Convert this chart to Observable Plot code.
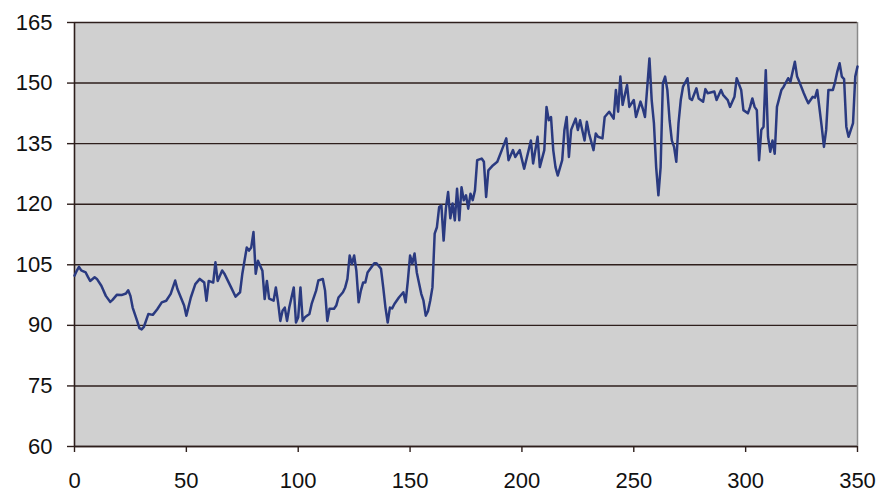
<!DOCTYPE html>
<html>
<head>
<meta charset="utf-8">
<script src="https://cdn.jsdelivr.net/npm/d3@7"></script>
<script src="https://cdn.jsdelivr.net/npm/@observablehq/plot@0.6"></script>
<style>
  html, body { margin: 0; padding: 0; background: #fff; }
  #chart svg { display: block; }
</style>
</head>
<body>
<div id="chart"></div>
<script>
const days = [0,1,2,3,5,6,7,9,10,12,14,16,17,19,21,23,24,25,26,28,29,30,31,33,35,37,39,41,43,45,46,49,50,
52,54,56,58,59,60,62,63,64,66,67,70,72,74,75,77,78,79,80,81,82,84,85,86,87,89,90,91,92,93,94,95,96,98,99,100,
101,102,103,105,106,108,109,111,112,113,114,116,117,118,120,121,122,123,124,125,126,127,128,129,130,131,134,135,137,138,139,140,
141,142,143,145,147,148,149,150,151,152,153,155,156,157,158,159,160,161,162,163,164,165,166,167,168,169,170,171,172,173,174,175,176,177,178,179,180,
182,183,184,185,187,189,191,193,194,196,197,199,201,203,204,205,207,208,210,211,212,213,214,215,216,218,219,220,221,222,224,225,226,228,229,230,
232,233,234,236,237,239,241,242,243,244,245,247,248,250,251,253,254,255,257,258,259,260,261,262,263,264,265,266,267,268,269,270,
271,272,274,275,276,278,279,281,282,283,286,287,289,290,292,293,295,296,298,299,301,302,303,304,305,306,307,308,309,310,
311,312,313,314,316,317,319,320,322,323,324,326,327,328,330,331,332,334,335,336,337,339,340,341,342,343,344,345,346,348,349,350];

const values = [102.3,103.5,104.5,103.6,103.1,102.0,101.0,101.9,101.5,99.8,97.3,95.8,96.3,97.6,97.5,97.9,98.7,97.3,94.4,91.1,89.3,89.0,89.6,92.8,92.6,94.0,95.7,96.1,97.8,101.1,99.0,94.9,92.4,
96.9,100.2,101.5,100.6,96.1,101.0,100.6,105.6,101.0,103.6,102.8,99.4,97.1,98.2,102.7,109.3,108.5,109.3,113.1,102.8,106.0,103.5,96.5,101.0,96.6,96.1,99.4,95.7,91.1,93.6,94.4,91.1,94.4,99.4,90.7,92.0,
99.4,91.1,92.0,92.8,95.3,98.6,101.1,101.5,98.6,91.1,94.1,94.1,94.9,96.9,98.2,99.4,101.5,107.3,105.2,107.3,103.5,95.7,98.6,100.6,100.6,103.1,105.4,105.4,104.0,99.4,94.4,90.7,
94.4,94.2,95.3,96.9,98.2,95.7,101.0,107.3,105.3,107.8,103.1,97.8,96.1,92.4,93.5,96.1,99.4,112.7,114.3,119.3,119.7,111.0,118.9,123.0,116.5,120.2,116.0,123.8,116.0,124.2,121.0,122.2,118.9,122.6,121.0,123.4,130.9,
131.3,130.5,121.8,128.4,129.6,130.5,133.4,136.3,130.9,133.4,131.7,133.4,128.8,133.4,135.8,130.1,136.7,129.2,133.4,144.1,140.8,141.6,133.4,129.2,127.1,130.9,138.4,141.6,131.7,138.4,141.2,138.4,140.8,135.8,140.4,137.5,
133.4,137.5,136.7,136.3,141.6,142.9,141.2,148.3,142.9,151.6,144.6,149.5,144.1,145.8,141.6,145.4,143.7,141.6,156.1,145.8,140.1,129.2,122.2,129.2,150.0,151.6,148.3,140.8,135.8,134.2,130.5,140.1,
145.8,149.1,151.2,146.2,145.8,148.7,146.2,145.4,148.5,147.5,147.9,145.8,148.3,147.0,145.8,144.1,146.6,151.2,148.3,143.3,142.5,144.1,146.2,144.1,143.3,130.9,138.4,139.2,153.2,136.7,
133.0,135.8,132.5,144.1,148.3,149.1,151.2,150.3,155.3,151.6,150.3,147.5,146.2,145.0,146.6,146.4,148.3,139.2,134.2,138.4,148.3,148.3,150.3,152.9,154.9,151.6,151.0,139.2,136.7,140.1,151.6,154.1];

const xTicks = [0, 50, 100, 150, 200, 250, 300, 350];
const yTicks = [60, 75, 90, 105, 120, 135, 150, 165];

const data = days.map((d, i) => ({day: d, value: values[i]}));

const chart = Plot.plot({
  width: 881,
  height: 493,
  marginLeft: 74,
  marginRight: 24,
  marginTop: 22,
  marginBottom: 47,
  style: {fontFamily: "Liberation Sans, Arial, sans-serif", background: "#fff", color: "#111", overflow: "visible"},
  x: {domain: [0, 350], ticks: xTicks},
  y: {domain: [60, 165], ticks: yTicks},
  marks: [
    Plot.frame({fill: "#d0d0d0", stroke: null}),
    Plot.gridY(yTicks, {stroke: "#2e1f1c", strokeOpacity: 1, strokeWidth: 1.4}),
    Plot.ruleX([350], {stroke: "#8a8a8a", strokeWidth: 1.5}),
    Plot.ruleX([0], {stroke: "#2e1f1c", strokeWidth: 1.6}),
    Plot.ruleY([60], {stroke: "#2e1f1c", strokeWidth: 1.6}),
    Plot.axisY(yTicks, {tickSize: 7, tickPadding: 15, fontSize: 22, stroke: "#2e1f1c", strokeWidth: 1.4, label: null}),
    Plot.axisX(xTicks, {tickSize: 6, tickPadding: 20, fontSize: 22, stroke: "#2e1f1c", strokeWidth: 1.4, label: null}),
    Plot.line(data, {x: "day", y: "value", stroke: "#2a3a80", strokeWidth: 2.5, strokeLinejoin: "round"})
  ]
});
document.getElementById("chart").appendChild(chart);
</script>
</body>
</html>
